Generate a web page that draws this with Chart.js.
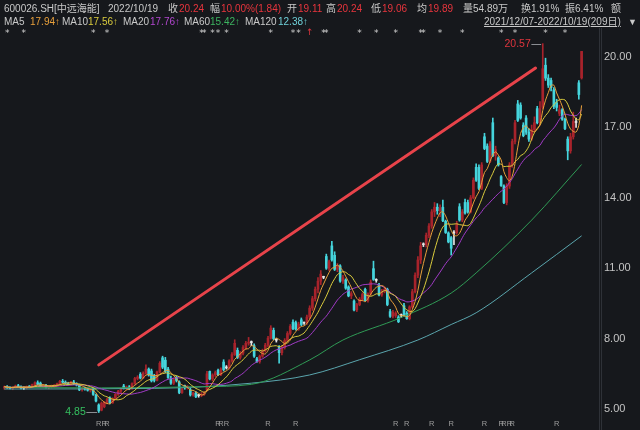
<!DOCTYPE html>
<html>
<head>
<meta charset="utf-8">
<script src="https://cdn.jsdelivr.net/npm/chart.js@4.4.1/dist/chart.umd.min.js"></script>
<style>
html,body{margin:0;padding:0;background:#16181c;}
#wrap{position:relative;width:640px;height:430px;overflow:hidden;background:#16181c;}
canvas{position:absolute;left:0;top:0;}
.t{position:absolute;white-space:nowrap;font-family:"Liberation Sans","Noto Sans CJK SC",sans-serif;font-size:10px;line-height:12px;color:#c9c9c9;}
.r{color:#e8353d;}
.u{text-decoration:underline;}
</style>
</head>
<body>
<div id="wrap">
<canvas id="c" width="640" height="430"></canvas>
<div class="t" style="left:4px;top:3px">600026.SH[中远海能]</div>
<div class="t" style="left:108px;top:3px">2022/10/19</div>
<div class="t" style="left:168px;top:3px">收</div><div class="t r" style="left:179px;top:3px">20.24</div>
<div class="t" style="left:210px;top:3px">幅</div><div class="t r" style="left:221px;top:3px">10.00%(1.84)</div>
<div class="t" style="left:287px;top:3px">开</div><div class="t r" style="left:298px;top:3px">19.11</div>
<div class="t" style="left:326px;top:3px">高</div><div class="t r" style="left:337px;top:3px">20.24</div>
<div class="t" style="left:371px;top:3px">低</div><div class="t r" style="left:382px;top:3px">19.06</div>
<div class="t" style="left:417px;top:3px">均</div><div class="t r" style="left:428px;top:3px">19.89</div>
<div class="t" style="left:463px;top:3px">量54.89万</div>
<div class="t" style="left:521px;top:3px">换1.91%</div>
<div class="t" style="left:565px;top:3px">振6.41%</div>
<div class="t" style="left:611px;top:3px">额</div>

<div class="t" style="left:4px;top:16px">MA5</div><div class="t" style="left:30px;top:16px;color:#e9a03b">17.94↑</div>
<div class="t" style="left:62px;top:16px">MA10</div><div class="t" style="left:88px;top:16px;color:#d9cb3d">17.56↑</div>
<div class="t" style="left:123px;top:16px">MA20</div><div class="t" style="left:150px;top:16px;color:#b347d0">17.76↑</div>
<div class="t" style="left:184px;top:16px">MA60</div><div class="t" style="left:210px;top:16px;color:#3cb460">15.42↑</div>
<div class="t" style="left:245px;top:16px">MA120</div><div class="t" style="left:278px;top:16px;color:#6fd0d8">12.38↑</div>
<div class="t u" style="left:484px;top:16px">2021/12/07-2022/10/19(209日)</div>
<div class="t" style="left:628px;top:16px;font-size:9px">▼</div>
</div>
<script>
// Daily candles, 2021/12/07 - 2022/10/19
const opens = [5.90,5.95,5.92,5.88,5.93,5.98,5.95,5.89,5.90,5.96,5.93,6.04,6.12,6.10,5.98,6.00,5.92,5.95,5.97,6.02,
6.08,6.18,6.14,6.10,6.05,6.15,6.06,6.02,5.82,5.88,5.85,5.80,5.86,5.60,5.17,4.95,5.10,5.28,5.47,5.26,
5.45,5.62,5.76,5.98,5.88,5.94,5.85,6.08,6.30,6.48,6.32,6.52,6.70,6.62,6.40,6.22,6.58,7.18,7.08,6.70,
6.30,6.10,6.35,6.15,5.70,6.00,5.90,5.82,5.60,5.68,5.57,5.58,5.62,5.80,6.60,6.28,6.45,6.65,6.46,7.00,
6.76,6.75,7.05,7.32,7.50,7.20,7.38,7.62,7.80,7.84,7.70,7.14,7.02,7.25,7.48,7.72,8.02,8.35,7.94,7.62,
7.40,7.62,7.92,8.22,8.70,8.68,8.40,8.80,8.66,8.67,8.92,9.30,9.70,10.10,10.45,10.62,11.50,11.00,11.95,11.55,
10.95,11.10,10.45,10.50,10.20,9.82,9.60,9.22,9.45,9.68,10.10,9.62,9.90,10.98,10.48,10.28,9.86,10.02,10.10,9.15,
8.95,8.98,8.92,8.98,9.40,9.08,8.85,9.35,10.00,10.70,11.35,12.00,12.00,12.40,12.80,13.40,13.60,13.45,13.60,13.00,
12.50,12.30,12.50,12.51,13.62,13.05,13.80,13.80,13.40,14.00,15.30,15.30,14.40,16.60,16.20,15.55,17.20,15.80,15.70,14.90,
14.50,13.80,14.50,15.40,16.40,18.00,17.95,17.10,17.40,16.80,16.50,16.90,17.80,17.20,17.85,19.65,19.10,19.00,18.60,18.05,
17.60,17.75,17.35,16.50,16.00,16.60,17.22,18.90,19.11];
const highs = [5.98,6.00,5.96,5.95,6.02,6.05,5.99,5.94,5.98,6.00,6.06,6.16,6.20,6.15,6.04,6.05,5.98,6.02,6.04,6.10,
6.22,6.26,6.20,6.14,6.18,6.22,6.12,6.06,5.92,5.93,5.90,5.86,5.90,5.64,5.22,5.30,5.32,5.45,5.52,5.48,
5.66,5.80,5.88,6.05,5.98,6.00,6.12,6.35,6.42,6.55,6.58,6.88,6.75,6.70,6.48,6.62,7.02,7.25,7.20,6.78,
6.40,6.32,6.40,6.20,5.90,6.02,6.00,5.90,5.72,5.74,5.62,5.70,5.75,6.60,6.62,6.50,6.62,6.70,6.75,7.10,
6.85,7.10,7.40,7.95,7.60,7.45,7.70,7.88,8.05,7.90,7.78,7.20,7.30,7.55,7.80,8.10,8.55,8.45,8.00,7.70,
7.70,8.00,8.30,8.60,8.80,8.75,8.70,8.88,8.70,9.00,9.40,9.80,10.20,10.60,10.90,10.66,11.60,11.35,12.15,11.70,
11.20,11.15,10.70,10.55,10.25,10.00,9.65,9.50,9.75,9.95,10.15,9.95,10.50,11.30,10.55,10.35,10.10,10.20,10.15,9.25,
9.20,9.15,8.98,9.05,9.50,9.15,9.40,10.10,10.80,11.50,12.10,12.08,12.50,12.90,13.50,13.80,13.75,13.70,13.90,13.05,
12.55,12.35,12.60,13.00,13.75,13.50,13.95,13.90,14.10,14.85,15.45,15.40,15.50,16.75,16.30,16.40,17.40,16.20,15.75,14.95,
14.55,14.60,15.50,16.50,17.30,18.15,18.05,17.20,17.50,16.95,17.10,17.45,17.90,18.10,20.57,19.95,19.25,19.10,18.70,18.20,
17.95,17.80,17.40,16.60,16.75,17.65,17.40,19.00,20.24];
const lows = [5.84,5.88,5.85,5.82,5.90,5.92,5.86,5.83,5.86,5.90,5.91,6.00,6.02,5.96,5.92,5.90,5.86,5.90,5.93,5.98,
6.05,6.10,6.06,6.02,6.03,6.04,5.98,5.78,5.76,5.80,5.76,5.72,5.58,5.30,4.85,4.92,5.05,5.22,5.22,5.24,
5.42,5.58,5.70,5.85,5.82,5.82,5.84,6.05,6.24,6.28,6.30,6.48,6.40,6.15,6.15,6.20,6.55,6.72,6.55,6.30,
6.05,6.04,6.15,5.65,5.66,5.84,5.85,5.55,5.55,5.48,5.50,5.52,5.58,5.76,6.24,6.20,6.38,6.42,6.42,6.62,
6.70,6.70,7.00,7.28,7.15,7.12,7.30,7.55,7.72,7.70,7.20,6.98,6.95,7.20,7.42,7.65,7.98,7.95,7.85,6.95,
7.30,7.55,7.85,8.15,8.38,8.36,8.35,8.55,8.60,8.60,8.85,9.20,9.60,9.95,10.30,10.55,10.95,10.90,11.30,10.90,
10.85,10.40,10.35,10.10,9.78,9.70,9.18,9.15,9.40,9.60,9.60,9.55,9.85,10.48,10.40,9.82,9.80,9.95,9.40,8.90,
8.88,8.90,8.68,8.90,8.95,8.82,8.80,9.30,9.95,10.60,11.20,11.92,11.90,12.30,12.70,13.20,13.30,13.20,12.98,12.48,
12.08,11.56,12.00,12.45,13.00,12.98,13.30,13.35,13.35,13.95,14.70,14.35,14.35,16.05,15.50,15.50,15.75,15.60,15.35,14.48,
13.75,13.70,14.40,15.30,16.30,17.25,17.35,16.60,16.70,16.40,16.45,16.80,17.15,17.10,17.80,19.00,18.70,18.55,17.80,17.70,
17.50,17.30,16.90,15.62,15.90,16.50,17.00,18.20,19.06];
const closes = [5.95,5.92,5.88,5.93,5.98,5.95,5.89,5.90,5.96,5.93,6.04,6.12,6.05,5.98,6.00,5.92,5.95,5.97,6.02,6.08,
6.18,6.14,6.10,6.05,6.15,6.06,6.02,5.82,5.88,5.85,5.80,5.84,5.62,5.34,4.92,5.25,5.28,5.40,5.26,5.45,
5.62,5.76,5.84,5.88,5.94,5.85,6.08,6.30,6.36,6.32,6.52,6.70,6.45,6.20,6.22,6.58,6.95,6.78,6.60,6.34,
6.10,6.25,6.22,5.70,5.85,5.90,5.95,5.60,5.68,5.52,5.58,5.62,5.70,6.50,6.28,6.45,6.55,6.46,6.70,6.68,
6.75,7.05,7.32,7.80,7.20,7.38,7.62,7.80,7.85,7.83,7.25,7.02,7.25,7.48,7.72,8.02,8.45,8.00,7.93,7.40,
7.62,7.92,8.22,8.52,8.42,8.40,8.62,8.60,8.67,8.92,9.30,9.70,10.10,10.45,10.75,10.61,11.00,11.28,11.35,10.95,
11.10,10.45,10.60,10.15,9.82,9.92,9.22,9.45,9.68,9.88,9.62,9.90,10.40,10.52,10.49,9.86,10.02,10.10,9.45,8.95,
9.12,9.08,8.72,8.99,9.00,8.85,9.35,10.00,10.70,11.35,11.95,12.01,12.40,12.80,13.40,13.60,13.45,13.55,13.02,12.52,
12.12,11.85,12.51,12.90,13.05,13.40,13.35,13.40,14.00,14.75,14.75,14.40,15.40,16.10,15.55,16.30,15.80,16.05,15.40,14.52,
13.80,14.50,15.40,16.40,17.20,17.30,17.40,16.65,16.80,16.50,16.90,17.20,17.20,17.80,19.50,19.10,18.80,18.70,17.90,17.85,
17.75,17.35,16.95,16.00,16.60,17.25,17.21,18.40,20.24];

// Longer averages, read at a handful of trading days
const ma60Days = [0, 35, 71, 89, 110, 122, 143, 161, 170, 190, 208];
const ma60Vals = [5.92, 5.90, 5.95, 6.05, 7.09, 7.94, 8.90, 9.94, 10.80, 13.05, 15.42];
const ma120Days = [0, 54, 89, 110, 128, 149, 161, 170, 190, 208];
const ma120Vals = [5.85, 5.88, 6.10, 6.45, 7.10, 7.94, 8.60, 9.10, 10.80, 12.38];

// Marker rows along the top and bottom edges (trading day numbers)
const starDays = [1, 7, 32, 37, 71, 72, 75, 77, 80, 96, 104, 106, 115, 116, 128, 134, 141, 150, 151, 157, 165, 179, 184, 195, 202];
const flagDays = [110];
const rDays = [34, 36, 37, 77, 78, 80, 95, 105, 141, 145, 154, 161, 173, 179, 180, 182, 183, 199];

// Trend arrow: [day, price] endpoints
const trendFrom = [34, 6.88];
const trendTo = [191.4, 19.53];

const yTicks = [5, 8, 11, 14, 17, 20];

const N = closes.length;
const days = Array.from({length: N}, (_, i) => String(i + 1));

function sma(n) {
  return closes.map((_, i) => {
    const s = Math.max(0, i - n + 1);
    let t = 0;
    for (let k = s; k <= i; k++) t += closes[k];
    return +(t / (i - s + 1)).toFixed(3);
  });
}
function sparse(idx, vals) {
  const a = new Array(N).fill(null);
  idx.forEach((d, k) => { a[d] = vals[k]; });
  return a;
}

const UP = '#a8232b', DOWN = '#45d4dc', FLAT = '#e6e6e6';
const candleColor = closes.map((c, i) => Math.abs(c - opens[i]) < 0.015 ? FLAT : (c > opens[i] ? UP : DOWN));
const bodies = closes.map((c, i) => [Math.min(c, opens[i]), Math.max(c, opens[i])]);
const wicks = closes.map((c, i) => [lows[i], highs[i]]);

const maLine = (label, data, color, extra) => Object.assign({
  type: 'line', label, data, borderColor: color, borderWidth: 1, pointRadius: 0, tension: 0.3, order: 0
}, extra || {});

const deco = {
  id: 'deco',
  beforeDraw(chart) {
    const ctx = chart.ctx;
    ctx.save();
    ctx.fillStyle = '#16181c';
    ctx.fillRect(0, 0, chart.width, chart.height);
    ctx.restore();
  },
  afterDatasetsDraw(chart) {
    const ctx = chart.ctx, x = chart.scales.x, y = chart.scales.y;
    ctx.save();
    // price axis separator
    ctx.strokeStyle = '#2e3137';
    ctx.lineWidth = 1;
    [599.5, 601.5].forEach(px => { ctx.beginPath(); ctx.moveTo(px, 28); ctx.lineTo(px, 430); ctx.stroke(); });

    // trend arrow
    ctx.strokeStyle = '#e8434a';
    ctx.lineWidth = 3;
    ctx.lineCap = 'round';
    ctx.beginPath();
    ctx.moveTo(x.getPixelForValue(trendFrom[0]), y.getPixelForValue(trendFrom[1]));
    ctx.lineTo(x.getPixelForValue(trendTo[0]), y.getPixelForValue(trendTo[1]));
    ctx.stroke();

    // highest and lowest price labels
    ctx.font = '10.5px "Liberation Sans", sans-serif';
    ctx.textBaseline = 'middle';
    ctx.lineWidth = 1;
    const hi = Math.max(...highs), hiDay = highs.indexOf(hi);
    const lo = Math.min(...lows), loDay = lows.indexOf(lo);
    let px = x.getPixelForValue(hiDay), py = Math.round(y.getPixelForValue(hi)) + 0.5;
    ctx.strokeStyle = '#8a8d92';
    ctx.beginPath(); ctx.moveTo(px - 11, py); ctx.lineTo(px - 2, py); ctx.stroke();
    ctx.fillStyle = '#e0353d'; ctx.textAlign = 'right';
    ctx.fillText(hi.toFixed(2), px - 12, py);
    px = x.getPixelForValue(loDay); py = Math.round(y.getPixelForValue(lo)) - 0.5;
    ctx.beginPath(); ctx.moveTo(px - 12, py); ctx.lineTo(px - 2, py); ctx.stroke();
    ctx.fillStyle = '#35c060';
    ctx.fillText(lo.toFixed(2), px - 13, py);

    // event marker rows
    ctx.textAlign = 'center';
    ctx.font = '9px "DejaVu Sans", sans-serif';
    ctx.fillStyle = '#d0d0d0';
    starDays.forEach(d => ctx.fillText('*', x.getPixelForValue(d), 34));
    ctx.fillStyle = '#e0353d';
    flagDays.forEach(d => ctx.fillText('↑', x.getPixelForValue(d), 33));
    ctx.font = '7.5px "Liberation Sans", sans-serif';
    ctx.fillStyle = '#9c9c9c';
    rDays.forEach(d => ctx.fillText('R', x.getPixelForValue(d), 424));
    ctx.restore();
  }
};

new Chart(document.getElementById('c'), {
  type: 'bar',
  data: {
    labels: days,
    datasets: [
      maLine('MA5', sma(5), '#e9a03b'),
      maLine('MA10', sma(10), '#d9cb3d'),
      maLine('MA20', sma(20), '#a23bc8'),
      maLine('MA60', sparse(ma60Days, ma60Vals), '#2f9a55', {spanGaps: true, cubicInterpolationMode: 'monotone'}),
      maLine('MA120', sparse(ma120Days, ma120Vals), '#5aa5ad', {spanGaps: true, cubicInterpolationMode: 'monotone'}),
      {label: 'body', data: bodies, backgroundColor: candleColor, barThickness: 2, minBarLength: 1, grouped: false, order: 1},
      {label: 'wick', data: wicks, backgroundColor: candleColor, barThickness: 1, grouped: false, order: 2}
    ]
  },
  options: {
    responsive: false,
    animation: false,
    devicePixelRatio: 1,
    events: [],
    layout: {padding: {top: 38, bottom: 12, left: 3, right: 0}},
    plugins: {legend: {display: false}, tooltip: {enabled: false}},
    scales: {
      x: {display: false, offset: true},
      y: {
        position: 'right',
        min: 4.616, max: 20.81,
        grid: {display: false, drawTicks: true, tickLength: 21},
        border: {display: false},
        afterFit(s) { s.width = 57; },
        afterBuildTicks(s) { s.ticks = yTicks.map(v => ({value: v})); },
        ticks: {padding: 0, color: '#c4c4c4', font: {size: 11, family: 'Liberation Sans'}, callback: v => v.toFixed(2)}
      }
    }
  },
  plugins: [deco]
});
</script>
</body>
</html>
